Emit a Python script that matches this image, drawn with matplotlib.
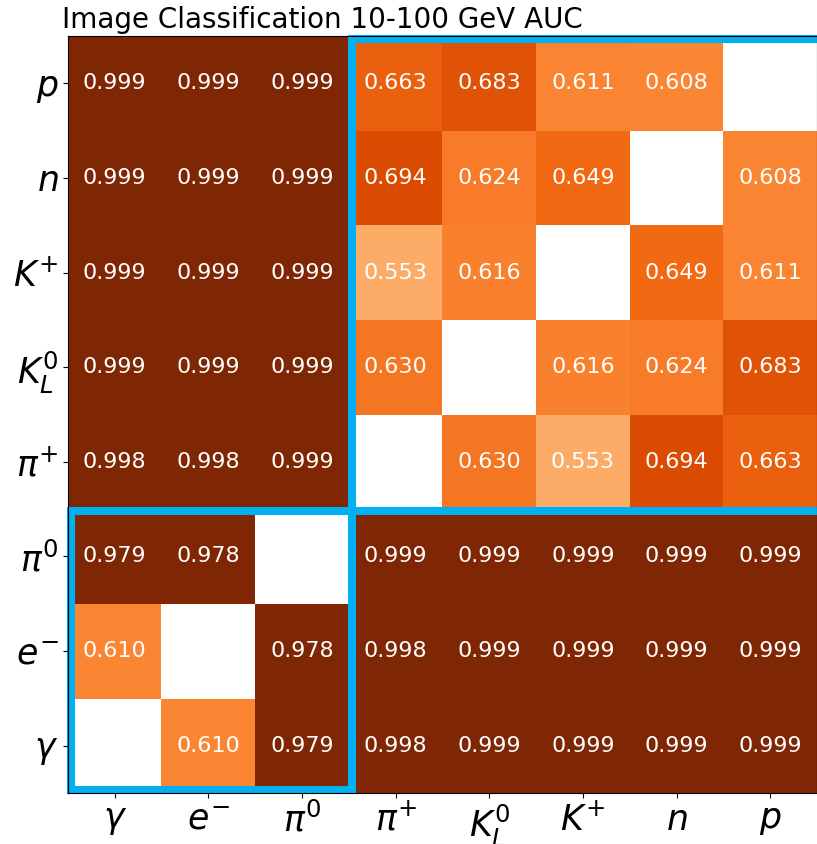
import matplotlib
matplotlib.use('Agg')
import matplotlib.pyplot as plt
import matplotlib.patches as patches
import numpy as np

# particle labels (bottom -> top on y, left -> right on x)
labels = [r'$\gamma$', r'$e^{-}$', r'$\pi^{0}$', r'$\pi^{+}$', r'$K_L^0$', r'$K^{+}$', r'$n$', r'$p$']

# AUC values, row i = y label i (gamma at bottom)
row_gamma = [np.nan, 0.610, 0.979, 0.998, 0.999, 0.999, 0.999, 0.999]
row_e = [0.610, np.nan, 0.978, 0.998, 0.999, 0.999, 0.999, 0.999]
row_pi0 = [0.979, 0.978, np.nan, 0.999, 0.999, 0.999, 0.999, 0.999]
row_pip = [0.998, 0.998, 0.999, np.nan, 0.630, 0.553, 0.694, 0.663]
row_kl = [0.999, 0.999, 0.999, 0.630, np.nan, 0.616, 0.624, 0.683]
row_kp = [0.999, 0.999, 0.999, 0.553, 0.616, np.nan, 0.649, 0.611]
row_n = [0.999, 0.999, 0.999, 0.694, 0.624, 0.649, np.nan, 0.608]
row_p = [0.999, 0.999, 0.999, 0.663, 0.683, 0.611, 0.608, np.nan]

auc = np.array([row_gamma, row_e, row_pi0, row_pip, row_kl, row_kp, row_n, row_p])

fig = plt.figure(figsize=(8.17, 8.44), dpi=100)
ax = fig.add_axes([68/817, 51/844, 749/817, 757/844])

ax.imshow(auc, cmap='Oranges', vmin=0.4, vmax=0.8, origin='lower', aspect='auto')

n = len(labels)
for i in range(n):
    for j in range(n):
        if not np.isnan(auc[i, j]):
            ax.text(j, i, f'{auc[i, j]:.3f}', ha='center', va='center',
                    color='white', fontsize=16)

ax.set_xticks(range(n))
ax.set_yticks(range(n))
ax.set_xticklabels(labels, fontsize=25)
ax.set_yticklabels(labels, fontsize=25)
ax.set_xlim(-0.5, n - 0.5)
ax.set_ylim(-0.5, n - 0.5)

# blue boxes around the two groups
blue = '#00b0f0'
ax.add_patch(patches.Rectangle((-0.47, -0.47), 3.0, 2.95,
                               fill=False, edgecolor=blue, linewidth=5.8, clip_on=False))
ax.add_patch(patches.Rectangle((2.53, 2.48), 5.1, 4.99,
                               fill=False, edgecolor=blue, linewidth=5.8, clip_on=False))

fig.text(62/817, 1 - 20/844, 'Image Classification 10-100 GeV AUC',
         fontsize=20, ha='left', va='center')

fig.savefig('out.png', dpi=100)
